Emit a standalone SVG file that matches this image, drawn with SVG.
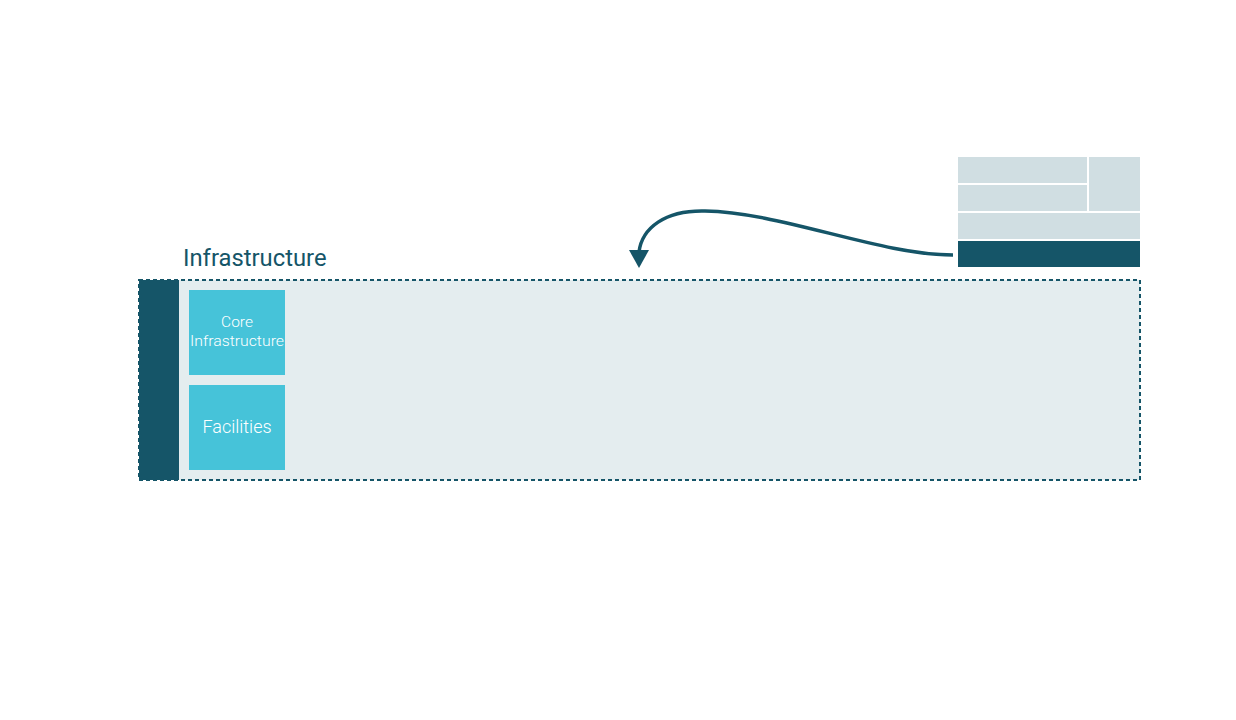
<svg xmlns="http://www.w3.org/2000/svg" width="1236" height="720" viewBox="0 0 1236 720">
<style>
.dark{fill:#155568}
.light{fill:#D0DEE2}
.box{fill:#46C3D9}
.lbl{font-family:Roboto,"Liberation Sans",sans-serif;font-weight:300;fill:#ffffff;text-anchor:middle}
</style>
<rect width="1236" height="720" fill="#ffffff"/>
<g id="infrastructure">
<rect x="139" y="280" width="1001" height="200" fill="#E4EDEF" stroke="#155568" stroke-width="2" stroke-dasharray="4,3"/>
<rect x="139" y="280" width="40" height="200" class="dark"/>
<text x="183" y="266" font-family="Roboto,'Liberation Sans',sans-serif" font-size="23.8" fill="#155568">Infrastructure</text>
</g>
<g id="core-infrastructure">
<rect x="189" y="290" width="96" height="85" class="box"/>
<text x="237" y="327" class="lbl" font-size="15.5">Core</text>
<text x="237" y="346" class="lbl" font-size="15.5" textLength="94" lengthAdjust="spacingAndGlyphs">Infrastructure</text>
</g>
<g id="facilities">
<rect x="189" y="385" width="96" height="85" class="box"/>
<text x="237" y="433" class="lbl" font-size="18">Facilities</text>
</g>
<g id="stack-icon">
<rect x="958" y="157" width="129" height="26" class="light"/>
<rect x="958" y="185" width="129" height="26" class="light"/>
<rect x="1089" y="157" width="51" height="54" class="light"/>
<rect x="958" y="213" width="182" height="26" class="light"/>
<rect x="958" y="241" width="182" height="26" class="dark"/>
</g>
<g id="connectors">
<path d="M953,255 C 880,255 780,212 705,211 C 665,210 642,228 639,252" fill="none" stroke="#155568" stroke-width="3.5"/>
<polygon points="629,250 649,250 639,268" fill="#155568"/>
</g>
</svg>
